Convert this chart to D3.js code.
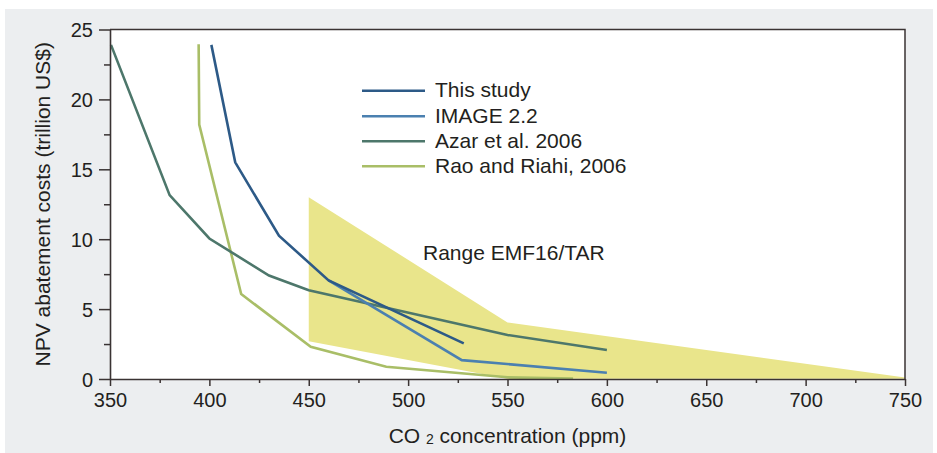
<!DOCTYPE html>
<html>
<head>
<meta charset="utf-8">
<script src="https://cdn.jsdelivr.net/npm/d3@7"></script>
<style>
  html, body { margin: 0; padding: 0; background: #ffffff; }
  svg { display: block; font-family: "Liberation Sans", Arial, Helvetica, sans-serif; }
</style>
</head>
<body>
<svg id="chart" width="937" height="453"></svg>
<script>
// ---- data ----
const xTicks = [350, 400, 450, 500, 550, 600, 650, 700, 750];
const xMinorTicks = [375, 425, 475, 525, 575, 625, 675, 725];
const yTicks = [0, 5, 10, 15, 20, 25];
const yMinorTicks = [2.5, 7.5, 12.5, 17.5, 22.5];

const thisStudyX = [401, 413, 435, 460, 528];
const thisStudyY = [23.9, 15.5, 10.25, 7.05, 2.55];

const imageX = [460, 527, 600];
const imageY = [7.05, 1.35, 0.45];

const azarX = [350.5, 380, 400, 430, 450, 550, 600];
const azarY = [23.9, 13.15, 10.05, 7.4, 6.35, 3.15, 2.07];

const raoX = [394.6, 394.9, 416, 451, 489, 550, 583];
const raoY = [23.95, 18.2, 6.08, 2.3, 0.88, 0.12, 0.03];

const bandUpperX = [450, 550, 750];
const bandUpperY = [13.0, 4.05, 0.1];
const bandLowerX = [450, 550, 750];
const bandLowerY = [2.7, 0.02, 0.02];

const seriesNames = ["This study", "IMAGE 2.2", "Azar et al. 2006", "Rao and Riahi, 2006"];
const seriesColors = ["#2d5a87", "#4b80b0", "#4d776b", "#a9be67"];
const bandLabel = "Range EMF16/TAR";

// ---- layout ----
const svg = d3.select("#chart");
const plot = { left: 110, right: 905, top: 29.5, bottom: 379 };
const axisColor = "#3a3333";
const textColor = "#231f20";

const x = d3.scaleLinear().domain([350, 750]).range([plot.left, plot.right]);
const y = d3.scaleLinear().domain([0, 25]).range([plot.bottom, plot.top]);

// background panel
svg.append("rect").attr("x", 5).attr("y", 9).attr("width", 928).attr("height", 444)
  .attr("fill", "#eceef0");
svg.append("rect").attr("x", plot.left).attr("y", plot.top)
  .attr("width", plot.right - plot.left).attr("height", plot.bottom - plot.top)
  .attr("fill", "#ffffff");

// band
const bandPts = bandUpperX.map((v, i) => [x(v), y(bandUpperY[i])])
  .concat(bandLowerX.map((v, i) => [x(v), y(bandLowerY[i])]).reverse());
svg.append("path")
  .attr("d", d3.line()(bandPts) + "Z")
  .attr("fill", "#e9e58b");

// series lines
const series = [
  [thisStudyX, thisStudyY],
  [imageX, imageY],
  [azarX, azarY],
  [raoX, raoY]
];
const line = d3.line().x(d => x(d[0])).y(d => y(d[1]));
const drawOrder = [3, 2, 1, 0];
drawOrder.forEach(i => {
  const [xs, ys] = series[i];
  svg.append("path")
    .attr("d", line(xs.map((v, j) => [v, ys[j]])))
    .attr("fill", "none")
    .attr("stroke", seriesColors[i])
    .attr("stroke-width", 2.6)
    .attr("stroke-linejoin", "miter");
});

// frame top/right
svg.append("path")
  .attr("d", `M${plot.left},${plot.top}H${plot.right}V${plot.bottom}`)
  .attr("fill", "none").attr("stroke", axisColor).attr("stroke-width", 1.5);

// x axis
const gx = svg.append("g").attr("transform", `translate(0,${plot.bottom})`);
gx.call(d3.axisBottom(x).tickValues(xMinorTicks).tickSize(4).tickFormat(""));
gx.call(g => g.selectAll(".tick line").attr("stroke", axisColor).attr("stroke-width", 1.5));
const gx2 = svg.append("g").attr("transform", `translate(0,${plot.bottom})`);
gx2.call(d3.axisBottom(x).tickValues(xTicks).tickSize(7).tickSizeOuter(0).tickPadding(7).tickFormat(d3.format("d")));
gx2.select(".domain").attr("stroke", axisColor).attr("stroke-width", 1.6);
gx2.selectAll(".tick line").attr("stroke", axisColor).attr("stroke-width", 1.5);
gx2.selectAll(".tick text").attr("font-size", 20).attr("fill", textColor)
  .attr("font-family", "Liberation Sans, Arial, sans-serif").attr("dy", "0.72em");
gx.select(".domain").remove();

// y axis
const gy = svg.append("g").attr("transform", `translate(${plot.left},0)`);
gy.call(d3.axisLeft(y).tickValues(yMinorTicks).tickSize(6).tickFormat(""));
gy.select(".domain").remove();
gy.selectAll(".tick line").attr("stroke", axisColor).attr("stroke-width", 1.5);
const gy2 = svg.append("g").attr("transform", `translate(${plot.left},0)`);
gy2.call(d3.axisLeft(y).tickValues(yTicks).tickSize(11).tickSizeOuter(0).tickPadding(6).tickFormat(d3.format("d")));
gy2.select(".domain").attr("stroke", axisColor).attr("stroke-width", 1.6);
gy2.selectAll(".tick line").attr("stroke", axisColor).attr("stroke-width", 1.5);
gy2.selectAll(".tick text").attr("font-size", 20).attr("fill", textColor)
  .attr("font-family", "Liberation Sans, Arial, sans-serif").attr("dy", "0.36em");

// y axis title
svg.append("text")
  .attr("transform", `translate(50,${(plot.top + plot.bottom) / 2}) rotate(-90)`)
  .attr("text-anchor", "middle")
  .attr("font-size", 21).attr("fill", textColor)
  .text("NPV abatement costs (trillion US$)");

// x axis title
const xt = svg.append("text")
  .attr("x", (plot.left + plot.right) / 2).attr("y", 443)
  .attr("text-anchor", "middle")
  .attr("font-size", 21).attr("fill", textColor);
xt.append("tspan").text("CO ");
xt.append("tspan").attr("font-size", 14).attr("dy", 1).text("2");
xt.append("tspan").attr("dy", -1).text(" concentration (ppm)");

// legend
const legendY = [90.7, 116.2, 141.2, 166.2];
seriesNames.forEach((name, i) => {
  svg.append("line")
    .attr("x1", 362).attr("x2", 425)
    .attr("y1", legendY[i]).attr("y2", legendY[i])
    .attr("stroke", seriesColors[i]).attr("stroke-width", 2.6);
  svg.append("text")
    .attr("x", 435).attr("y", legendY[i] + 6.5)
    .attr("font-size", 21).attr("fill", textColor)
    .text(name);
});

// band label
svg.append("text")
  .attr("x", 423).attr("y", 260)
  .attr("font-size", 21).attr("fill", textColor)
  .text(bandLabel);
</script>
</body>
</html>
